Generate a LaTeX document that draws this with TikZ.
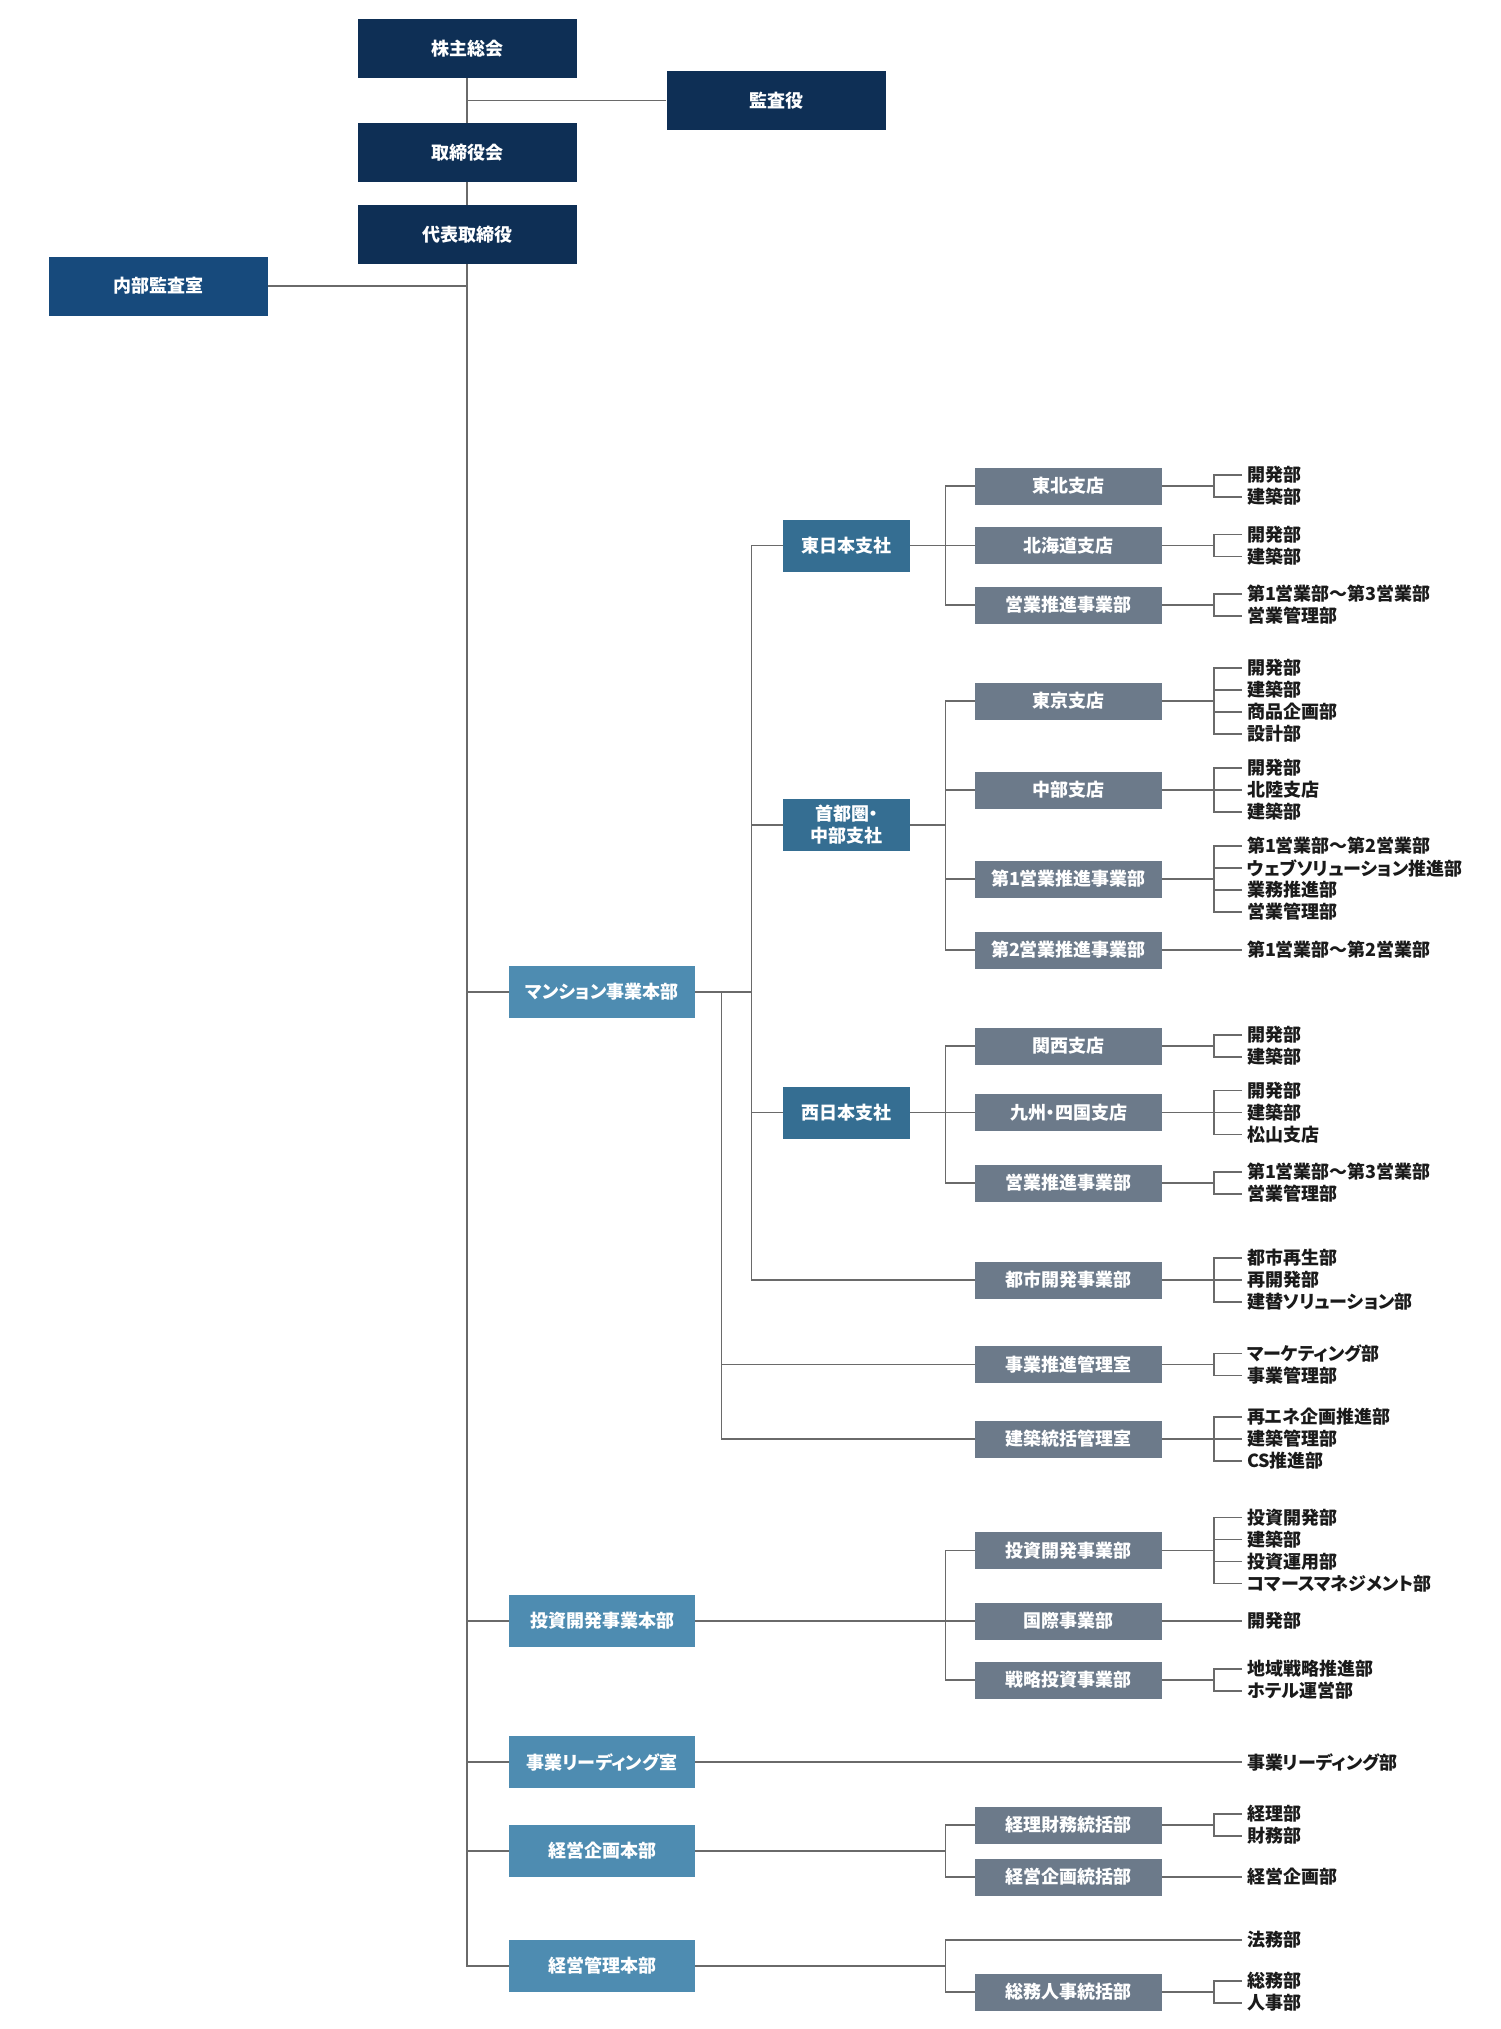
\documentclass[tikz,border=0pt]{standalone}
\usepackage{fontspec}
\setmainfont{Noto Sans CJK JP}[RawFeature=+palt]
\definecolor{navy}{HTML}{0E2F55}
\definecolor{naibuc}{HTML}{174A7C}
\definecolor{lvtwo}{HTML}{4E8CB1}
\definecolor{lvthree}{HTML}{356E92}
\definecolor{lvfour}{HTML}{6C7A8A}
\definecolor{linec}{HTML}{6A6A6A}
\definecolor{leaftext}{HTML}{1A1A1A}
\begin{document}
\begin{tikzpicture}[x=1pt,y=-1pt,
  conn/.style={draw=linec, line width=1.3pt},
  basebox/.style={inner sep=0pt, text=white, align=center, font=\bfseries\fontsize{18}{22}\selectfont},
  topbox/.style={basebox, fill=navy, minimum width=219pt, minimum height=59pt},
  naibubox/.style={topbox, fill=naibuc},
  twobox/.style={basebox, fill=lvtwo, minimum width=186pt, minimum height=52pt},
  threebox/.style={basebox, fill=lvthree, minimum width=127pt, minimum height=52pt},
  fourbox/.style={basebox, fill=lvfour, minimum width=187pt, minimum height=37pt},
  leaf/.style={anchor=west, inner sep=0pt, outer xsep=5pt, outer ysep=0pt, text=leaftext, font=\bfseries\fontsize{18}{22}\selectfont}
]
\fill[white] (0,0) rectangle (1500,2029);
\useasboundingbox (0,0) rectangle (1500,2029);

% ---------- top ----------
\node[topbox] (kabu) at (467,48.5) {株主総会};
\node[topbox] (kansa) at (776,100.5) {監査役};
\node[topbox] (tori) at (467,152.5) {取締役会};
\node[topbox] (daihyo) at (467,234.5) {代表取締役};
\node[naibubox] (naibu) at (158,286) {内部監査室};

% ---------- level 2 ----------
\node[twobox] (mansion) at (602,992) {マンション事業本部};
\node[twobox] (toushi) at (602,1621) {投資開発事業本部};
\node[twobox] (reading) at (602,1762) {事業リーディング室};
\node[twobox] (kikaku) at (602,1851) {経営企画本部};
\node[twobox] (kanri) at (602,1966) {経営管理本部};

% ---------- level 3 ----------
\node[threebox] (higashi) at (846.5,545.5) {東日本支社};
\node[threebox] (shuto) at (846.5,825) {首都圏・\\中部支社};
\node[threebox] (nishi) at (846.5,1112.5) {西日本支社};

% ---------- level 4 ----------
\node[fourbox] (tohoku) at (1068.5,486) {東北支店};
\node[fourbox] (hokkaido) at (1068.5,545.5) {北海道支店};
\node[fourbox] (eigyoE) at (1068.5,605) {営業推進事業部};
\node[fourbox] (tokyo) at (1068.5,701) {東京支店};
\node[fourbox] (chubu) at (1068.5,790) {中部支店};
\node[fourbox] (dai1) at (1068.5,879) {第1営業推進事業部};
\node[fourbox] (dai2) at (1068.5,950) {第2営業推進事業部};
\node[fourbox] (kansai) at (1068.5,1046) {関西支店};
\node[fourbox] (kyushu) at (1068.5,1112.5) {九州・四国支店};
\node[fourbox] (eigyoW) at (1068.5,1183) {営業推進事業部};
\node[fourbox] (toshi) at (1068.5,1280) {都市開発事業部};
\node[fourbox] (jigyo) at (1068.5,1364.5) {事業推進管理室};
\node[fourbox] (kenchiku) at (1068.5,1439) {建築統括管理室};
\node[fourbox] (toushiJ) at (1068.5,1550.5) {投資開発事業部};
\node[fourbox] (kokusai) at (1068.5,1621) {国際事業部};
\node[fourbox] (senryaku) at (1068.5,1680) {戦略投資事業部};
\node[fourbox] (keiri) at (1068.5,1825) {経理財務統括部};
\node[fourbox] (kikakuT) at (1068.5,1877) {経営企画統括部};
\node[fourbox] (soumu) at (1068.5,1992) {総務人事統括部};

% ---------- leaves ----------
\node[leaf] (tha) at (1242,475) {開発部};
\node[leaf] (thb) at (1242,497) {建築部};
\node[leaf] (hka) at (1242,534.5) {開発部};
\node[leaf] (hkb) at (1242,556.5) {建築部};
\node[leaf] (eea) at (1242,594) {第1営業部～第3営業部};
\node[leaf] (eeb) at (1242,616) {営業管理部};
\node[leaf] (tka) at (1242,668) {開発部};
\node[leaf] (tkb) at (1242,690) {建築部};
\node[leaf] (tkc) at (1242,712) {商品企画部};
\node[leaf] (tkd) at (1242,734) {設計部};
\node[leaf] (cba) at (1242,768) {開発部};
\node[leaf] (cbb) at (1242,790) {北陸支店};
\node[leaf] (cbc) at (1242,812) {建築部};
\node[leaf] (d1a) at (1242,846) {第1営業部～第2営業部};
\node[leaf] (d1b) at (1242,868) {ウェブソリューション推進部};
\node[leaf] (d1c) at (1242,890) {業務推進部};
\node[leaf] (d1d) at (1242,912) {営業管理部};
\node[leaf] (d2a) at (1242,950) {第1営業部～第2営業部};
\node[leaf] (ksa) at (1242,1035) {開発部};
\node[leaf] (ksb) at (1242,1057) {建築部};
\node[leaf] (kya) at (1242,1090.5) {開発部};
\node[leaf] (kyb) at (1242,1112.5) {建築部};
\node[leaf] (kyc) at (1242,1134.5) {松山支店};
\node[leaf] (ewa) at (1242,1172) {第1営業部～第3営業部};
\node[leaf] (ewb) at (1242,1194) {営業管理部};
\node[leaf] (tsa) at (1242,1258) {都市再生部};
\node[leaf] (tsb) at (1242,1280) {再開発部};
\node[leaf] (tsc) at (1242,1302) {建替ソリューション部};
\node[leaf] (jga) at (1242,1353.5) {マーケティング部};
\node[leaf] (jgb) at (1242,1375.5) {事業管理部};
\node[leaf] (kna) at (1242,1417) {再エネ企画推進部};
\node[leaf] (knb) at (1242,1439) {建築管理部};
\node[leaf] (knc) at (1242,1461) {CS推進部};
\node[leaf] (tja) at (1242,1517.5) {投資開発部};
\node[leaf] (tjb) at (1242,1539.5) {建築部};
\node[leaf] (tjc) at (1242,1561.5) {投資運用部};
\node[leaf] (tjd) at (1242,1583.5) {コマースマネジメント部};
\node[leaf] (kka) at (1242,1621) {開発部};
\node[leaf] (sra) at (1242,1669) {地域戦略推進部};
\node[leaf] (srb) at (1242,1691) {ホテル運営部};
\node[leaf] (rda) at (1242,1762) {事業リーディング部};
\node[leaf] (kra) at (1242,1814) {経理部};
\node[leaf] (krb) at (1242,1836) {財務部};
\node[leaf] (kta) at (1242,1877) {経営企画部};
\node[leaf] (hma) at (1242,1940) {法務部};
\node[leaf] (sma) at (1242,1981) {総務部};
\node[leaf] (smb) at (1242,2003) {人事部};

% ---------- connectors: top ----------
\draw[conn] (kabu.south) -- (tori.north);
\draw[conn] (tori.south) -- (daihyo.north);
\draw[conn] (kansa.west) -- (kansa.west -| kabu.south);
\draw[conn] (naibu.east) -- (naibu.east -| daihyo.south);
\draw[conn] (daihyo.south) |- (kanri.west);
\draw[conn] (mansion.west) -- (mansion.west -| daihyo.south);
\draw[conn] (toushi.west) -- (toushi.west -| daihyo.south);
\draw[conn] (reading.west) -- (reading.west -| daihyo.south);
\draw[conn] (kikaku.west) -- (kikaku.west -| daihyo.south);

% ---------- mansion ----------
\coordinate (busA) at ([xshift=26pt]mansion.east);
\coordinate (busB) at ([xshift=-31pt]higashi.west);
\draw[conn] (mansion.east) -- (mansion.east -| busB);
\draw[conn] (busA) |- (kenchiku.west);
\draw[conn] (busA |- jigyo.west) -- (jigyo.west);
\draw[conn] (higashi.west) -- (busB) |- (toshi.west);
\draw[conn] (shuto.west) -- (shuto.west -| busB);
\draw[conn] (nishi.west) -- (nishi.west -| busB);

% level 3 -> level 4
\draw[conn] (higashi.east) -- (hokkaido.west);
\draw[conn] (tohoku.west) -- ++(-29,0) |- (eigyoE.west);
\draw[conn] (tokyo.west) -- ++(-29,0) |- (dai2.west);
\draw[conn] (chubu.west) -- ++(-29,0);
\draw[conn] (dai1.west) -- ++(-29,0);
\draw[conn] (shuto.east) -- ++(36,0);
\draw[conn] (kansai.west) -- ++(-29,0) |- (eigyoW.west);
\draw[conn] (nishi.east) -- (kyushu.west);

% toushi
\draw[conn] (toushi.east) -- (kokusai.west);
\draw[conn] (toushiJ.west) -- ++(-29,0) |- (senryaku.west);

% reading
\draw[conn] (reading.east) -- (rda.west);

% kikaku
\coordinate (kib) at ([xshift=-29pt]keiri.west);
\draw[conn] (keiri.west) -- (kib) |- (kikakuT.west);
\draw[conn] (kikaku.east) -- (kikaku.east -| kib);

% kanri
\coordinate (kab) at ([xshift=-29pt]soumu.west);
\draw[conn] (hma.west) -| (kab) -- (soumu.west);
\draw[conn] (kanri.east) -- (kanri.east -| kab);

% ---------- level 4 -> leaves ----------
\coordinate (lb) at (1214,0);
\draw[conn] (tohoku.east) -- (tohoku.east -| lb);
\draw[conn] (tha.west) -| (lb |- thb.west) -- (thb.west);
\draw[conn] (hokkaido.east) -- (hokkaido.east -| lb);
\draw[conn] (hka.west) -| (lb |- hkb.west) -- (hkb.west);
\draw[conn] (eigyoE.east) -- (eigyoE.east -| lb);
\draw[conn] (eea.west) -| (lb |- eeb.west) -- (eeb.west);

\draw[conn] (tokyo.east) -- (tokyo.east -| lb);
\draw[conn] (tka.west) -| (lb |- tkd.west) -- (tkd.west);
\draw[conn] (tkb.west) -- (tkb.west -| lb);
\draw[conn] (tkc.west) -- (tkc.west -| lb);
\draw[conn] (chubu.east) -- (cbb.west);
\draw[conn] (cba.west) -| (lb |- cbc.west) -- (cbc.west);
\draw[conn] (dai1.east) -- (dai1.east -| lb);
\draw[conn] (d1a.west) -| (lb |- d1d.west) -- (d1d.west);
\draw[conn] (d1b.west) -- (d1b.west -| lb);
\draw[conn] (d1c.west) -- (d1c.west -| lb);
\draw[conn] (dai2.east) -- (d2a.west);

\draw[conn] (kansai.east) -- (kansai.east -| lb);
\draw[conn] (ksa.west) -| (lb |- ksb.west) -- (ksb.west);
\draw[conn] (kyushu.east) -- (kyb.west);
\draw[conn] (kya.west) -| (lb |- kyc.west) -- (kyc.west);
\draw[conn] (eigyoW.east) -- (eigyoW.east -| lb);
\draw[conn] (ewa.west) -| (lb |- ewb.west) -- (ewb.west);

\draw[conn] (toshi.east) -- (tsb.west);
\draw[conn] (tsa.west) -| (lb |- tsc.west) -- (tsc.west);
\draw[conn] (jigyo.east) -- (jigyo.east -| lb);
\draw[conn] (jga.west) -| (lb |- jgb.west) -- (jgb.west);
\draw[conn] (kenchiku.east) -- (knb.west);
\draw[conn] (kna.west) -| (lb |- knc.west) -- (knc.west);

\draw[conn] (toushiJ.east) -- (toushiJ.east -| lb);
\draw[conn] (tja.west) -| (lb |- tjd.west) -- (tjd.west);
\draw[conn] (tjb.west) -- (tjb.west -| lb);
\draw[conn] (tjc.west) -- (tjc.west -| lb);
\draw[conn] (kokusai.east) -- (kka.west);
\draw[conn] (senryaku.east) -- (senryaku.east -| lb);
\draw[conn] (sra.west) -| (lb |- srb.west) -- (srb.west);

\draw[conn] (keiri.east) -- (keiri.east -| lb);
\draw[conn] (kra.west) -| (lb |- krb.west) -- (krb.west);
\draw[conn] (kikakuT.east) -- (kta.west);
\draw[conn] (soumu.east) -- (soumu.east -| lb);
\draw[conn] (sma.west) -| (lb |- smb.west) -- (smb.west);
\end{tikzpicture}
\end{document}
